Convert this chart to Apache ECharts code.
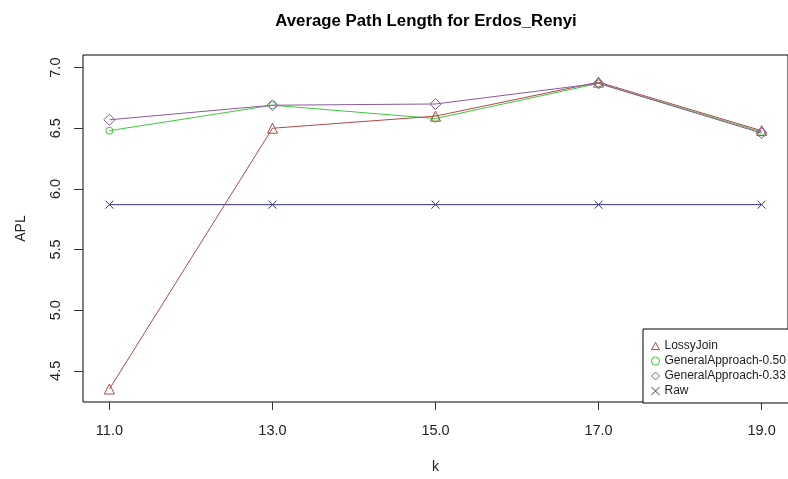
<!DOCTYPE html>
<html>
<head>
<meta charset="utf-8">
<script src="https://cdn.jsdelivr.net/npm/echarts@6/dist/echarts.min.js"></script>
<style>
  html, body { margin: 0; padding: 0; background: #fff; }
  #chart { width: 788px; height: 479px; }
</style>
</head>
<body>
<div id="chart"></div>
<script>
const kValues = [11, 13, 15, 17, 19]
const lossyJoin = [4.35, 6.50, 6.60, 6.88, 6.48]
const general050 = [6.48, 6.69, 6.58, 6.87, 6.47]
const general033 = [6.57, 6.69, 6.70, 6.87, 6.46]
const raw = [5.87, 5.87, 5.87, 5.87, 5.87]
const xTicks = [11, 13, 15, 17, 19]
const yTicks = [4.5, 5.0, 5.5, 6.0, 6.5, 7.0]

const font = 'Liberation Sans, Arial, sans-serif'
// open R-style symbols drawn as outlines
const symbols = {
  triangle: 'path://M5,0L10,9L0,9Z',
  circle: 'path://M5,0A5,5 0 1,1 5,10A5,5 0 1,1 5,0Z',
  diamond: 'path://M5,0L10,5L5,10L0,5Z',
  cross: 'path://M0,0L10,10M10,0L0,10'
}
const colors = {
  lossy: '#b04848',
  g050: '#3fc63f',
  g033: '#8a5a9e',
  raw: '#33337f'
}

const pairs = (ys) => kValues.map((k, i) => [k, ys[i]])

const symbolStyle = (color) => ({ color: 'transparent', borderColor: color, borderWidth: 1 })

const makeSeries = (name, ys, color, symbol, size) => ({
  name: name,
  type: 'line',
  data: pairs(ys),
  symbol: symbol,
  symbolSize: size,
  lineStyle: { color: color, width: 1 },
  itemStyle: symbolStyle(color),
  emphasis: { disabled: true },
  z: 3
})

const instance = echarts.init(document.getElementById('chart'))
instance.setOption({
  animation: false,
  textStyle: { fontFamily: font },
  title: {
    text: 'Average Path Length for Erdos_Renyi',
    left: 421,
    top: 8,
    textAlign: 'center',
    textStyle: { fontSize: 16.8, fontWeight: 'bold', color: '#000', fontFamily: font }
  },
  grid: {
    left: 83,
    top: 55,
    right: -4,
    bottom: 76,
    show: true,
    borderColor: '#000',
    borderWidth: 1,
    backgroundColor: 'transparent'
  },
  legend: {
    orient: 'vertical',
    left: 643,
    top: 329,
    padding: [11, 30, 6, 8],
    backgroundColor: '#fff',
    borderColor: '#000',
    borderWidth: 1,
    itemWidth: 8,
    itemHeight: 8,
    itemGap: 3,
    textStyle: { fontSize: 12, lineHeight: 12, color: '#222', fontFamily: font, padding: [0, 0, 0, 0] },
    data: [
      { name: 'LossyJoin', icon: symbols.triangle, itemStyle: symbolStyle(colors.lossy) },
      { name: 'GeneralApproach-0.50', icon: symbols.circle, itemStyle: symbolStyle(colors.g050) },
      { name: 'GeneralApproach-0.33', icon: symbols.diamond, itemStyle: symbolStyle(colors.g033) },
      { name: 'Raw', icon: symbols.cross, itemStyle: symbolStyle(colors.raw) }
    ],
    z: 10
  },
  xAxis: {
    type: 'value',
    min: 10.676,
    max: 19.324,
    name: 'k',
    nameLocation: 'middle',
    nameGap: 58,
    nameTextStyle: { fontSize: 14, color: '#222', fontFamily: font },
    axisLine: { show: false },
    splitLine: { show: false },
    axisTick: { show: true, length: 8, customValues: xTicks, lineStyle: { color: '#333' } },
    axisLabel: {
      customValues: xTicks,
      margin: 21,
      fontSize: 14.5,
      color: '#222',
      formatter: (v) => v.toFixed(1)
    }
  },
  yAxis: {
    type: 'value',
    min: 4.243,
    max: 7.104,
    name: 'APL',
    nameLocation: 'middle',
    nameGap: 55,
    nameRotate: 90,
    nameTextStyle: { fontSize: 14, color: '#222', fontFamily: font },
    axisLine: { show: false },
    splitLine: { show: false },
    axisTick: { show: true, length: 9, customValues: yTicks, lineStyle: { color: '#333' } },
    axisLabel: {
      customValues: yTicks,
      rotate: 90,
      margin: 20,
      fontSize: 14.5,
      color: '#222',
      formatter: (v) => v.toFixed(1)
    }
  },
  series: [
    makeSeries('Raw', raw, colors.raw, symbols.cross, 8),
    makeSeries('GeneralApproach-0.50', general050, colors.g050, symbols.circle, 7),
    makeSeries('LossyJoin', lossyJoin, colors.lossy, symbols.triangle, 10),
    makeSeries('GeneralApproach-0.33', general033, colors.g033, symbols.diamond, 11)
  ]
})
</script>
</body>
</html>
